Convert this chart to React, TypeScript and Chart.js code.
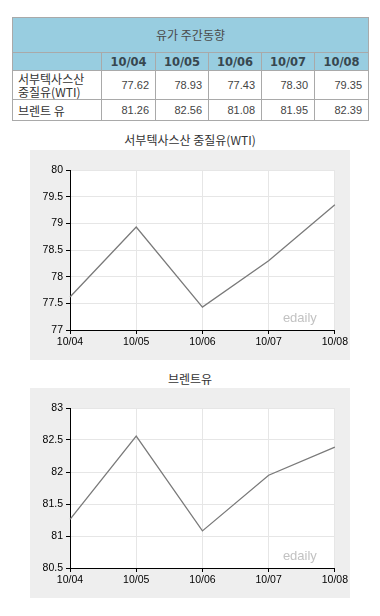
import React, { useEffect, useRef } from "react";
import { Chart, registerables } from "chart.js";

Chart.register(...registerables);

const tableTitle = "유가 주간동향";
const dates = ["10/04", "10/05", "10/06", "10/07", "10/08"];
const wtiName = ["서부텍사스산", "중질유(WTI)"];
const brentName = "브렌트 유";
const wtiValues = [77.62, 78.93, 77.43, 78.3, 79.35];
const brentValues = [81.26, 82.56, 81.08, 81.95, 82.39];
const wtiTitle = "서부텍사스산 중질유(WTI)";
const brentTitle = "브렌트유";
const wtiRange = [77, 80];
const brentRange = [80.5, 83];
const tickStep = 0.5;
const watermark = "edaily";

const CJK = '"Noto Sans CJK KR", "Noto Sans", sans-serif';
const TICK_FONT = "Liberation Sans";

function LineChart({ values, range, width, height }: { values: number[]; range: number[]; width: number; height: number }) {
  const ref = useRef<HTMLCanvasElement | null>(null);
  useEffect(() => {
    if (!ref.current) return;
    const bgPlugin = {
      id: "bg",
      beforeDraw(chart: any) {
        const { ctx, chartArea } = chart;
        ctx.save();
        ctx.fillStyle = "#eeeeee";
        ctx.fillRect(0, 0, chart.width, chart.height);
        ctx.fillStyle = "#ffffff";
        ctx.fillRect(chartArea.left, chartArea.top, chartArea.right - chartArea.left, chartArea.bottom - chartArea.top);
        ctx.restore();
      },
      afterDatasetsDraw(chart: any) {
        const { ctx, chartArea } = chart;
        ctx.save();
        ctx.font = "13px Liberation Sans";
        ctx.fillStyle = "#c2c2c2";
        ctx.textAlign = "center";
        ctx.textBaseline = "alphabetic";
        ctx.fillText(watermark, chartArea.right - 35, chartArea.bottom - 8);
        ctx.restore();
      },
    };
    const chart = new Chart(ref.current, {
      type: "line",
      data: {
        labels: dates,
        datasets: [
          {
            data: values,
            borderColor: "#7a7a7a",
            borderWidth: 1.3,
            pointRadius: 0,
            tension: 0,
            fill: false,
          },
        ],
      },
      options: {
        animation: false,
        responsive: false,
        devicePixelRatio: 1,
        layout: { padding: { top: 20, right: 15, left: 0, bottom: 0 } },
        plugins: { legend: { display: false }, tooltip: { enabled: false } },
        scales: {
          x: {
            type: "category",
            offset: false,
            afterFit: (s: any) => {
              s.height = 30;
            },
            grid: { color: "#e6e6e6", tickColor: "#000", tickLength: 4, drawTicks: true },
            border: { display: true, color: "#000", width: 1 },
            ticks: { color: "#000", font: { family: TICK_FONT, size: 10.5 }, padding: 2, maxRotation: 0, autoSkip: false },
          },
          y: {
            min: range[0],
            max: range[1],
            afterFit: (s: any) => {
              s.width = 40;
            },
            grid: { color: "#e6e6e6", tickColor: "#000", tickLength: 4, drawTicks: true },
            border: { display: true, color: "#000", width: 1 },
            ticks: {
              stepSize: tickStep,
              color: "#000",
              font: { family: TICK_FONT, size: 10.5 },
              padding: 3,
              callback: (v: any) => String(Number(Number(v).toFixed(1))),
            },
          },
        },
      },
      plugins: [bgPlugin],
    } as any);
    return () => chart.destroy();
  }, [values, range]);
  return <canvas ref={ref} width={width} height={height} style={{ display: "block", width, height }} />;
}

const border = "1px solid #a9a9a9";

export default function App() {
  const headBg = "#98cde0";
  const cellBase: React.CSSProperties = { border, padding: 0, boxSizing: "border-box" };
  const colW = [89, 54, 53, 53, 53, 54];
  return (
    <div style={{ position: "absolute", left: 0, top: 0, width: 380, height: 616, background: "#fff", fontFamily: CJK }}>
      <table
        style={{
          position: "absolute",
          left: 12,
          top: 17,
          width: 357,
          borderCollapse: "collapse",
          tableLayout: "fixed",
        }}
      >
        <colgroup>
          {colW.map((w, i) => (
            <col key={i} style={{ width: w }} />
          ))}
        </colgroup>
        <tbody>
          <tr style={{ height: 35 }}>
            <td
              colSpan={6}
              style={{ ...cellBase, background: headBg, textAlign: "center", fontSize: 12, color: "#4a4a4a", lineHeight: "14px" }}
            >
              {tableTitle}
            </td>
          </tr>
          <tr style={{ height: 18 }}>
            <td style={{ ...cellBase, background: headBg }} />
            {dates.map((d) => (
              <td
                key={d}
                style={{
                  ...cellBase,
                  background: headBg,
                  textAlign: "center",
                  fontFamily: "DejaVu Sans",
                  fontWeight: "bold",
                  fontSize: 11.5,
                  color: "#37474f",
                  lineHeight: "14px",
                }}
              >
                {d}
              </td>
            ))}
          </tr>
          <tr style={{ height: 29 }}>
            <td style={{ ...cellBase, fontSize: 12, lineHeight: "13px", color: "#333", paddingLeft: 5, verticalAlign: "middle" }}>
              {wtiName[0]}
              <br />
              {wtiName[1]}
            </td>
            {wtiValues.map((v, i) => (
              <td
                key={i}
                style={{ ...cellBase, textAlign: "right", paddingRight: 6, fontFamily: TICK_FONT, fontSize: 11, color: "#444" }}
              >
                {v.toFixed(2)}
              </td>
            ))}
          </tr>
          <tr style={{ height: 21 }}>
            <td style={{ ...cellBase, fontSize: 12, lineHeight: "13px", color: "#333", paddingLeft: 5 }}>{brentName}</td>
            {brentValues.map((v, i) => (
              <td
                key={i}
                style={{ ...cellBase, textAlign: "right", paddingRight: 6, fontFamily: TICK_FONT, fontSize: 11, color: "#444" }}
              >
                {v.toFixed(2)}
              </td>
            ))}
          </tr>
        </tbody>
      </table>

      <div style={{ position: "absolute", left: 0, width: 380, top: 132, textAlign: "center", fontSize: 12, color: "#333", lineHeight: "16px" }}>
        {wtiTitle}
      </div>
      <div style={{ position: "absolute", left: 30, top: 150 }}>
        <LineChart values={wtiValues} range={wtiRange} width={320} height={210} />
      </div>

      <div style={{ position: "absolute", left: 0, width: 380, top: 371, textAlign: "center", fontSize: 12, color: "#333", lineHeight: "16px" }}>
        {brentTitle}
      </div>
      <div style={{ position: "absolute", left: 30, top: 388 }}>
        <LineChart values={brentValues} range={brentRange} width={320} height={210} />
      </div>
    </div>
  );
}
